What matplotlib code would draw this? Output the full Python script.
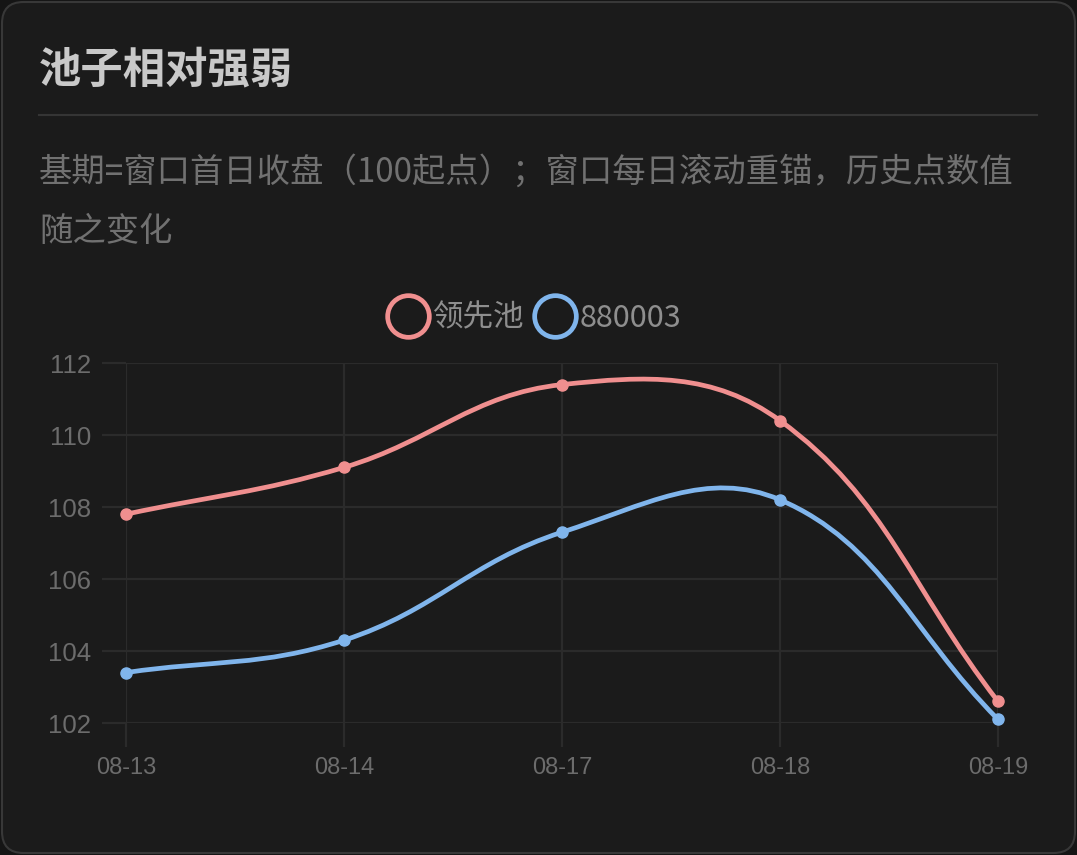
import numpy as np
import matplotlib
matplotlib.use("Agg")
import matplotlib.pyplot as plt
from matplotlib.path import Path
from matplotlib.patches import PathPatch, FancyBboxPatch
from matplotlib.lines import Line2D

# ---------------- data ----------------
dates = ["08-13", "08-14", "08-17", "08-18", "08-19"]
leader_pool = [107.8, 109.1, 111.4, 110.4, 102.6]
idx_880003 = [103.4, 104.3, 107.3, 108.2, 102.1]
series_names = ["领先池", "880003"]
y_ticks = [102, 104, 106, 108, 110, 112]

title = "池子相对强弱"
subtitle_lines = ["基期=窗口首日收盘（100起点）；窗口每日滚动重锚，历史点数值",
                  "随之变化"]

# ---------------- style ----------------
W, H = 1077, 855
BG_OUT = "#151515"
CARD = "#1b1b1b"
CARD_EDGE = "#383838"
GRID = "#2b2b2b"
RED = "#f08f8f"
BLUE = "#80b5ec"
TICK_C = "#6c6c6c"
CJK = ["Noto Sans CJK SC", "DejaVu Sans"]
NUM = ["Liberation Sans", "Noto Sans CJK SC", "DejaVu Sans"]

fig = plt.figure(figsize=(W / 100, H / 100), dpi=100)
fig.patch.set_facecolor(BG_OUT)

def fx(px):
    return px / W

def fy(py):
    return 1 - py / H

# card
card = FancyBboxPatch((fx(2), fy(853)), fx(1073), 851 / H,
                      boxstyle="round,pad=0,rounding_size=0.02",
                      transform=fig.transFigure, facecolor=CARD,
                      edgecolor=CARD_EDGE, linewidth=1.5,
                      mutation_aspect=W / H, zorder=-10)
fig.patches.append(card)

# title + rule + subtitle
fig.text(fx(39), fy(70), title, fontsize=30.5, fontweight="bold",
         color="#c9c9c9", family=CJK, va="center", ha="left")
fig.add_artist(Line2D([fx(39), fx(1037)], [fy(115), fy(115)],
                      transform=fig.transFigure, color="#353535", lw=1.5))
for i, line in enumerate(subtitle_lines):
    fig.text(fx(39), fy(172 + 60 * i), line, fontsize=24,
             color="#717171", family=CJK, va="center", ha="left")

# axes
ax = fig.add_axes([fx(126), fy(723), fx(998) - fx(126), (723 - 363) / H])
ax.set_facecolor("none")
ax.set_xlim(0, len(dates) - 1)
ax.set_ylim(y_ticks[0], y_ticks[-1])
for s in ax.spines.values():
    s.set_visible(False)
ax.set_xticks(range(len(dates)))
ax.set_xticklabels(dates)
ax.set_yticks(y_ticks)
ax.set_yticklabels([str(v) for v in y_ticks])
ax.tick_params(axis="both", colors=GRID, width=1.6, length=17, pad=6)
ax.tick_params(axis="x", labelcolor=TICK_C, labelsize=17, pad=7.5)
ax.tick_params(axis="y", labelcolor=TICK_C, labelsize=18.5, pad=8)
for lab in ax.get_xticklabels() + ax.get_yticklabels():
    lab.set_family(NUM)
ax.grid(True, color=GRID, lw=1.6)
ax.set_axisbelow(True)

fig.canvas.draw()

def spline_path(xs, ys, tension=0.4):
    pts = ax.transData.transform(np.column_stack([xs, ys]).astype(float))
    n = len(pts)
    bb = ax.bbox
    cps = []
    for i in range(n):
        p0 = pts[max(i - 1, 0)]
        p1 = pts[i]
        p2 = pts[min(i + 1, n - 1)]
        d01 = np.hypot(*(p1 - p0))
        d12 = np.hypot(*(p2 - p1))
        tot = d01 + d12
        s01 = d01 / tot if tot else 0
        s12 = d12 / tot if tot else 0
        fa, fb = tension * s01, tension * s12
        cp_prev = p1 - fa * (p2 - p0)
        cp_next = p1 + fb * (p2 - p0)
        for cp in (cp_prev, cp_next):
            cp[0] = min(max(cp[0], bb.x0), bb.x1)
            cp[1] = min(max(cp[1], bb.y0), bb.y1)
        cps.append((cp_prev, cp_next))
    verts = [pts[0]]
    codes = [Path.MOVETO]
    for i in range(1, n):
        verts += [cps[i - 1][1], cps[i][0], pts[i]]
        codes += [Path.CURVE4] * 3
    verts = ax.transData.inverted().transform(np.array(verts))
    return Path(verts, codes)

x = np.arange(len(dates))
for vals, col in ((leader_pool, RED), (idx_880003, BLUE)):
    ax.add_patch(PathPatch(spline_path(x, vals), facecolor="none",
                           edgecolor=col, lw=3.4, clip_on=False,
                           capstyle="round", joinstyle="round", zorder=3))
    ax.plot(x, vals, ls="none", marker="o", ms=8, color=col,
            clip_on=False, zorder=4)

# legend
handles = [Line2D([], [], ls="none", marker="o", ms=30, mfc="none",
                  mec=c, mew=3.4) for c in (RED, BLUE)]
leg = fig.legend(handles, series_names, loc="center", ncol=2, frameon=False,
                 bbox_to_anchor=(fx(534), fy(318)),
                 prop={"family": CJK, "size": 22},
                 handlelength=1.4, handletextpad=0.1, columnspacing=0.3,
                 borderaxespad=0, borderpad=0)
for t in leg.get_texts():
    t.set_color("#8e8e8e")

fig.savefig("out.png", dpi=100, facecolor=fig.get_facecolor())
